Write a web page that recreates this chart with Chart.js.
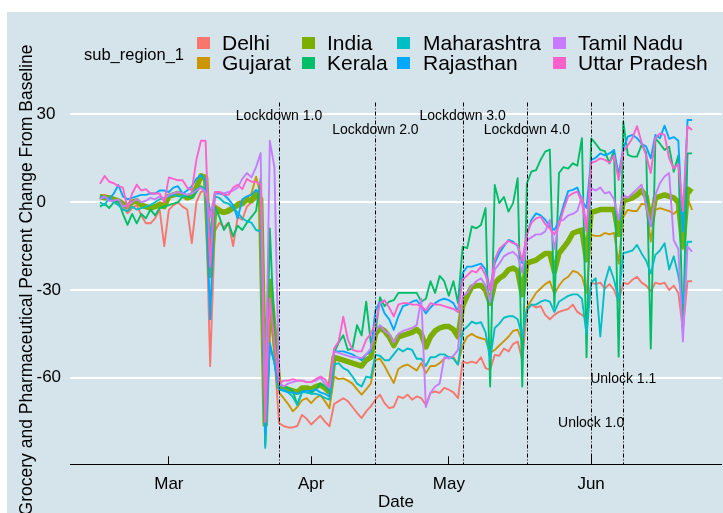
<!DOCTYPE html>
<html>
<head>
<meta charset="utf-8">
<script src="https://cdn.jsdelivr.net/npm/chart.js@4/dist/chart.umd.min.js"></script>
<style>
  html, body { margin: 0; padding: 0; background: #ffffff; }
  canvas { display: block; }
</style>
</head>
<body>
<canvas id="chart" width="723" height="513"></canvas>
<script>
// Day index 0 = 15 Feb 2020, one value per day up to 23 Jun 2020
const dayCount = 130;
const monthTickDays = [15, 46, 76, 107];
const monthLabels = ['Mar', 'Apr', 'May', 'Jun'];
const yTickValues = [-60, -30, 0, 30];

const regionNames = ['Delhi', 'Gujarat', 'India', 'Kerala', 'Maharashtra', 'Rajasthan', 'Tamil Nadu', 'Uttar Pradesh'];
const regionColors = ['#F8766D', '#CD9600', '#7CAE00', '#00BE67', '#00BFC4', '#00A9FF', '#C77CFF', '#FF61CC'];

// Grocery & pharmacy mobility, percent change from baseline
const delhi = [
  2, 2.5, 2, 1.5, 0, -1.5, -3.8, -2, -1, -4.5,
  -7.2, -7.2, -5.5, -2.6, -15, -2.6, -1, 0, -1.5, -2.5,
  -14, 0, 3.6, 4, -56, -10, -7, -8.5, -7, -15,
  -5, -6, -1.5, 0, 1, 1, -82, -36, -52, -75.5,
  -76.5, -77, -77, -76.5, -72.7, -74, -76, -74.5, -73, -75,
  -76.6, -69, -68, -67, -68, -70, -72, -73.8, -71.5, -69.8,
  -67.5, -65.8, -68.7, -70.4, -70, -66.4, -67, -65.8, -67.5, -66.4,
  -67, -69.3, -65.2, -64.7, -65.2, -63.5, -64.1, -65, -67, -54.4,
  -55, -54.5, -55, -53, -56.7, -57.3, -52.2, -52.5, -50, -51,
  -48.5, -47.6, -54, -37, -35, -36, -35.5, -38.5, -40, -38.5,
  -37.5, -37, -36.5, -35, -37.5, -38.5, -40, -27.5, -28, -27.5,
  -29.5, -28, -30, -34, -27.5, -28, -26.5, -25.5, -27.5, -28.5,
  -30.5, -27.5, -28, -27.5, -30, -28.5, -31, -43.6, -27, -27
];
const gujarat = [
  2.5, 2, 1.5, 1, 0, -1, -2, -0.5, 0.5, -0.5,
  -1, -1.5, -1, 0, -0.5, 2, 2, 2.5, 2, 1,
  1.5, 4, 8, 7.5, -20, -1, -2, -3, -2, -1.5,
  0, 0.5, 1.5, 3, 8.7, 2.5, -77, -35, -42, -65,
  -67, -69, -71.5, -70, -67.7, -67, -68.7, -67, -66, -68,
  -70.4, -59.6, -60.5, -60.2, -61, -62, -64, -65.8, -64, -62,
  -54, -53.5, -56, -59, -61.8, -57, -56, -55.5, -56.5, -57.5,
  -55, -58.4, -56, -56, -55, -53.5, -53, -53, -55.5, -49,
  -46, -45, -46, -46.5, -47, -51.5, -50.5, -49, -47.5, -46,
  -44, -43.6, -47.5, -36, -33.5, -31, -29.5, -28, -27, -31.5,
  -28.5, -26.5, -25.5, -23.5, -24, -25.5, -31, -11.2, -11.5, -11.5,
  -10.5, -11, -10.5, -21, -5, -2.6, -3, -3, -0.5, -1,
  -13.5, -2.6, -2, -2.5, -3, -4, -2.5, -16, 1.4, -2.6
];
const india = [
  2, 1.5, 1.5, 1, 0.5, -0.5, -1.5, 0, 0.5, -1,
  -1.5, -2, -1.5, -1, -1.5, 2, 2.5, 3, 2.5, 1.5,
  2, 5, 9, 8.5, -25, -2, -3, -3.5, -3, -2,
  -1, -0.5, 1, 0.5, 3, 1, -76, -27, -45, -63,
  -63.5, -64, -64.5, -65, -63.5, -63.5, -64, -63, -62.5, -63.5,
  -65, -53, -53.5, -54, -54.5, -55, -55.5, -56, -54, -53,
  -45, -43, -44, -46, -49, -46, -45.5, -45, -44.5, -43.5,
  -45, -49.5, -46, -44, -43, -42.5, -42.5, -43.5, -46, -35.5,
  -32, -29, -28.5, -28.5, -30, -34.5, -27.7, -26, -25, -23.1,
  -22.5, -23.5, -31.6, -20.8, -20.3, -19.8, -18.6, -17.5, -17.5, -23.7,
  -17.5, -15.5, -13.4, -10.6, -10, -9.5, -19.7, -3.5, -3, -2.5,
  -2.5, -2.5, -2.5, -11, 0.5, 1, 1.5, 2.5, 4, 2,
  -7.5, 1.5, 2, 2.5, 2, 1.5, 0, -15, 4.5, 3.5
];
const kerala = [
  -1.5, -0.5, -2, 0, 0.5, -4, -7.7, -4, -7.2, -4,
  -5.5, -2.5, -4.5, -2, -1.5, -1, -0.5, 0, 2, 2,
  1.5, 3.5, 5.5, 4, -3, -1.5, -5, -9.5, -7, -11.7,
  -8, -9.5, -7, -5, -3, 8, -83, -9, -45, -62,
  -63, -63.5, -64.5, -69.3, -64.7, -65, -65.2, -64, -62, -63,
  -64.5, -51.5, -48, -45.5, -50.5, -50, -42, -45.5, -34, -48,
  -44.5, -32.5, -35.5, -34, -33.5, -31, -31, -31, -31, -31,
  -34, -33, -27, -31, -25.2, -27, -32, -27, -34.5, -15.2,
  -15.7, -8.3, -8.9, -7.8, -2, -63, 5.9, -0.3, 1.8, -3.2,
  -0.3, 8.2, -63, 6.4, 10.5, 11, 14.5, 17.3, 18, -36,
  10, 12, 11.5, 13.3, 12.5, 21.9, -53, 21.8, 20, 17.9,
  17.5, 13.3, 17.9, -52.8, 27.5, 16.2, 15.6, 15.6, 19.6, 17,
  -50, 21.8, 20, 17.9, 19, 10.4, 16, -45, 16.7, 16.7
];
const maharashtra = [
  0, -1, 1.5, 0, -1, -2.5, -3, -1.5, -2.5, -2,
  -1.5, -1, 0, 1, 1.5, 2, 2.5, 2, 2, 2.5,
  3, 4.5, 5, 4, -12, 2, 1.5, 0, -0.5, -2,
  -3.5, -5.5, -6.5, -7, -9.5, -10, -84, -48, -55, -64,
  -64, -65, -66.5, -69.3, -65, -65, -65.5, -65.5, -66, -66.9,
  -67.5, -55.5, -55, -56.7, -57.5, -59.6, -62, -63, -59.6, -60,
  -52.2, -52.5, -54, -54, -52, -50, -51, -50, -50.5, -53.5,
  -53.5, -56, -53, -53, -52, -52, -53, -53.5, -55.5, -44,
  -42.5, -40.8, -41.5, -41, -44.5, -53.8, -43, -41.5, -39.5, -39,
  -39, -40, -46, -36.8, -35, -35, -34, -33.5, -34, -37.5,
  -34, -33, -32, -31.5, -31.5, -33, -45, -27.5, -26, -45.9,
  -27.5, -22, -26.5, -33.4, -17.4, -17, -16.5, -14.6, -17.5, -20,
  -24.3, -18, -16.5, -14, -23, -18.5, -25, -34.5, -13.5, -13.5
];
const rajasthan = [
  2, 1.5, 1, 3, 5.9, 2, 1, 1.5, 2, 2.5,
  2.5, 3, 3, 4, 4, 3.5, 5, 5.5, 3, 4,
  5.5, 8, 9.3, 7.5, -40, 3, 3, 2.5, 1, -1,
  -5.5, 1, 2, 2.5, 4.2, 3, -79, -49, -55, -64,
  -64.5, -65, -65, -65.5, -64.7, -64.5, -64.5, -64, -65, -65.5,
  -66.5, -51, -51, -51, -51.5, -52, -53, -54, -52, -51,
  -37, -34, -38, -40, -43.6, -39, -35.5, -35, -34, -33.5,
  -35.5, -38, -36, -34.5, -33.5, -33, -33.5, -34.5, -37.5, -24.3,
  -22, -22, -21.5, -21, -23, -30, -20.8, -17.4, -15, -12.9,
  -13.5, -15, -20.8, -11.2, -6, -3.8, -4.5, -6, -8.3, -9.5,
  -6.5, -1, 3.8, 4.2, 5, 0.5, -2, 14.5, 15.2, 16.7,
  16, 16.7, 17.9, 9.3, 18.4, 22.4, 23, 21.9, 20, 19,
  15, 23, 21.9, 26.2, 21.7, 22.3, 21, -10, 28.1, 28.1
];
const tamilNadu = [
  1, 2, 0.5, 0.5, 1, -1.5, -1, 0, 1, 0,
  0.5, 1.5, 1, 2, 1, 2.5, 3, 3.5, 3, 2.5,
  3, 4, 5, 3.5, -5, 3, 3.5, 3, 3.5, 4,
  5, 8, 10, 8.5, 12, 16.8, -75, 21, 12, -62,
  -63, -62, -61.5, -61, -61, -61.5, -61.5, -61, -60, -62,
  -63.5, -51, -51.5, -52, -52.5, -53, -53, -53.3, -52, -50,
  -44, -42, -44, -45, -48, -45, -44, -43.5, -43, -42,
  -33, -70, -65.2, -63, -62, -53, -53.5, -52.5, -50.5, -32,
  -31, -28.5, -27, -26, -28.5, -34, -23, -21, -18.5, -17.5,
  -17, -18.5, -24, -13, -12, -11, -11, -10, -6, -16,
  -6.5, -6, -4.5, -4, -3, 2, -8, 4.8, 4, 5,
  3, 3.5, 1, -6, 2.5, 1.5, 3, 4.5, 6, -1,
  -8.3, 2.5, 6.5, 8.8, 10, -13, -16, -47.6, -15.2, -16.9
];
const uttarPradesh = [
  6.3, 9, 7, 6.5, 5.5, 5, -2, 3, 6, 4,
  4.5, 3, 3, 3, 0, 8.5, 8, 7.5, 7.5, 5,
  4, 14.5, 21, 21, -22, 3.5, 3.5, 2.5, 2.5, 5,
  6, 4.5, 8, 7, 7, 6, -75, -33, -48, -62,
  -61, -61, -60.5, -61, -61, -61.5, -61.5, -60.5, -59.6, -60.5,
  -63, -50, -47.6, -39.1, -47, -50.4, -51, -51, -47, -45,
  -41.4, -34.5, -33.5, -36, -39, -35, -34.5, -34.5, -35, -35,
  -35.5, -37, -34.5, -35, -35, -35.5, -36, -36.5, -37.5, -26.5,
  -25, -23.5, -24, -22, -25, -30, -19.5, -16, -14.5, -13.2,
  -14, -14.5, -20, -11, -7, -5.5, -5, -7.5, -9, -11,
  -8, -2.5, 2, 3, 3.6, 0, -10, 13.5, 14, 15,
  14.5, 13.5, 16, 7.6, 17.5, 19.5, 22, 26, 20.5, 16,
  10, 22, 23.5, 23, 15, 11.5, 13, -3, 26, 24.7
];

const seriesValues = [delhi, gujarat, india, kerala, maharashtra, rajasthan, tamilNadu, uttarPradesh];

// Policy milestones (day index, label, label height in percent units)
const eventDays = [39, 60, 79, 93, 107, 114];
const eventLabels = ['Lockdown 1.0', 'Lockdown 2.0', 'Lockdown 3.0', 'Lockdown 4.0', 'Unlock 1.0', 'Unlock 1.1'];
const eventLabelValues = [30, 25, 30, 25, -75, -60];

const FONT = "'Liberation Sans', Arial, Helvetica, sans-serif";

const datasets = regionNames.map((name, i) => ({
  label: name,
  data: seriesValues[i].map((v, d) => ({ x: d, y: v })),
  borderColor: regionColors[i],
  backgroundColor: regionColors[i],
  borderWidth: name === 'India' ? 5.5 : 1.9,
  pointRadius: 0,
  pointHoverRadius: 0,
  tension: 0,
  fill: false,
  borderJoinStyle: 'round',
  // later regions are painted over earlier ones
  order: regionNames.length - i
}));

const backgroundPlugin = {
  id: 'panelBackground',
  beforeDraw(chart) {
    const ctx = chart.ctx;
    ctx.save();
    ctx.fillStyle = '#ffffff';
    ctx.fillRect(0, 0, chart.width, chart.height);
    ctx.fillStyle = '#d5e4eb';
    ctx.fillRect(7, 12, chart.width - 7, chart.height - 12);
    ctx.restore();
  }
};

const eventPlugin = {
  id: 'eventMarkers',
  afterDatasetsDraw(chart) {
    const ctx = chart.ctx;
    const xs = chart.scales.x, ys = chart.scales.y;
    const area = chart.chartArea;
    ctx.save();
    ctx.strokeStyle = '#000000';
    ctx.lineWidth = 1;
    ctx.setLineDash([4, 2, 1, 2]);
    eventDays.forEach(d => {
      const px = Math.round(xs.getPixelForValue(d)) + 0.5;
      ctx.beginPath();
      ctx.moveTo(px, area.top);
      ctx.lineTo(px, area.bottom);
      ctx.stroke();
    });
    ctx.setLineDash([]);
    ctx.fillStyle = '#000000';
    ctx.font = '14px ' + FONT;
    ctx.textAlign = 'center';
    ctx.textBaseline = 'middle';
    eventDays.forEach((d, i) => {
      ctx.fillText(eventLabels[i], xs.getPixelForValue(d), ys.getPixelForValue(eventLabelValues[i]) + 1.5);
    });
    ctx.restore();
  }
};

const legendPlugin = {
  id: 'regionLegend',
  afterDraw(chart, args, opts) {
    const ctx = chart.ctx;
    ctx.save();
    ctx.fillStyle = '#000000';
    ctx.textBaseline = 'middle';
    ctx.textAlign = 'left';
    ctx.font = '16.5px ' + FONT;
    ctx.fillText('sub_region_1', opts.titleX, opts.titleY);
    ctx.font = '21px ' + FONT;
    regionNames.forEach((name, i) => {
      const col = Math.floor(i / 2), row = i % 2;
      const y = opts.rowY[row];
      ctx.fillStyle = regionColors[i];
      ctx.fillRect(opts.keyX[col], y - 6, 13, 12);
      ctx.fillStyle = '#000000';
      ctx.fillText(name, opts.textX[col], y + 1);
    });
    // rotated y-axis title
    ctx.translate(opts.yTitleX, opts.yTitleY);
    ctx.rotate(-Math.PI / 2);
    ctx.textAlign = 'center';
    ctx.font = '17.5px ' + FONT;
    ctx.fillText('Grocery and Pharmaceutical Percent Change From Baseline', 0, 0);
    ctx.restore();
  }
};

new Chart(document.getElementById('chart'), {
  type: 'line',
  data: { datasets },
  plugins: [backgroundPlugin, eventPlugin, legendPlugin],
  options: {
    responsive: false,
    devicePixelRatio: 1,
    animation: false,
    events: [],
    layout: { padding: { left: 36.5, top: 102.5, right: 1.3, bottom: 0 } },
    plugins: {
      legend: { display: false },
      tooltip: { enabled: false },
      regionLegend: {
        titleX: 84, titleY: 55,
        keyX: [197, 302, 397, 553],
        textX: [222, 327, 423, 578],
        rowY: [43, 63],
        yTitleX: 27,
        yTitleY: 280
      }
    },
    scales: {
      x: {
        type: 'linear',
        min: -6.45,
        max: 135.45,
        afterBuildTicks: s => { s.ticks = monthTickDays.map(v => ({ value: v })); },
        afterFit: s => { s.height = 48.7; },
        ticks: {
          callback: (v, i) => monthLabels[i],
          font: { family: FONT, size: 17 },
          color: '#000000',
          padding: 18.3,
          maxRotation: 0,
          autoSkip: false
        },
        grid: { drawOnChartArea: false, drawTicks: true, tickLength: -8, color: '#000000', lineWidth: 1 },
        border: { display: true, color: '#000000', width: 1 },
        title: { display: true, text: 'Date', font: { family: FONT, size: 17 }, color: '#000000', padding: { top: 0, bottom: 0 } }
      },
      y: {
        type: 'linear',
        min: -89.6,
        max: 34.1,
        afterBuildTicks: s => { s.ticks = yTickValues.map(v => ({ value: v })); },
        afterFit: s => { s.width = 33.9; },
        ticks: {
          crossAlign: 'far',
          padding: 0,
          font: { family: FONT, size: 17 },
          color: '#000000'
        },
        grid: { color: '#ffffff', lineWidth: 2, drawTicks: false },
        border: { display: false }
      }
    }
  }
});
</script>
</body>
</html>
